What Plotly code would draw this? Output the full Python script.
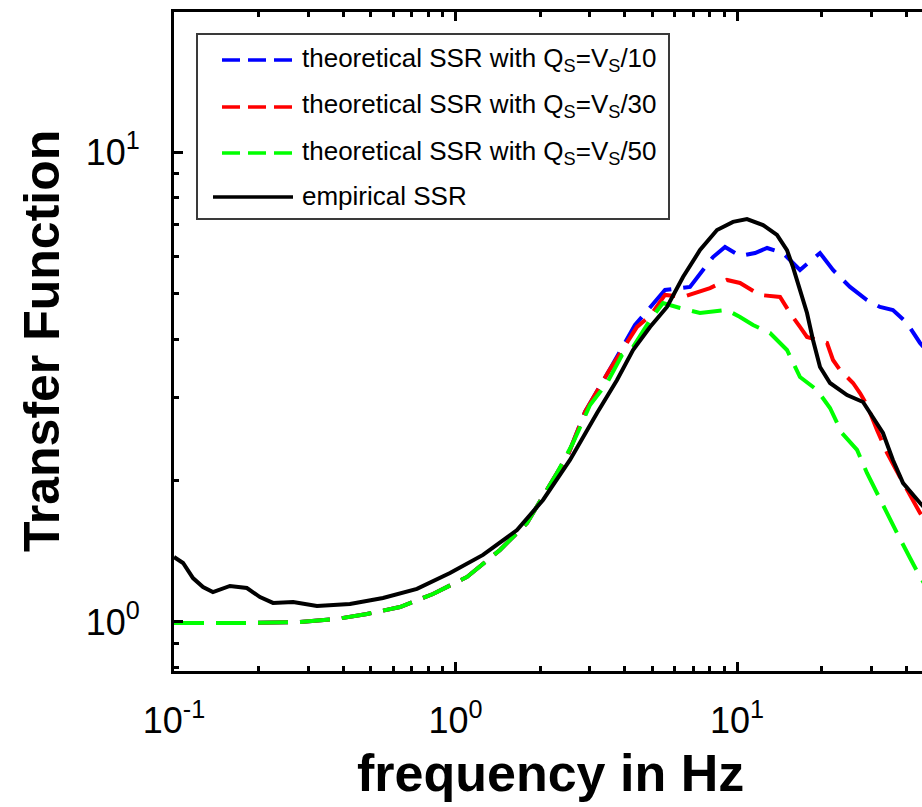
import plotly.graph_objects as go

# ---------------- data ----------------
# empirical SSR (black)
emp_f = [0.100, 0.1077, 0.1168, 0.1268, 0.1375, 0.158, 0.1815, 0.202, 0.2248, 0.265,
         0.322, 0.4217, 0.5526, 0.7295, 0.956, 1.252, 1.654, 2.046, 2.551, 2.838,
         3.183, 3.748, 4.272, 4.909, 5.640, 6.43, 7.39, 8.49, 9.68, 10.85,
         12.37, 13.87, 15.05, 15.81, 16.74, 17.73, 18.62, 19.72, 21.4, 24.6,
         28.03, 30.4, 33.0, 35.8, 38.9, 44.7, 50.5]
emp_y = [1.375, 1.335, 1.240, 1.187, 1.158, 1.193, 1.181, 1.130, 1.098, 1.103,
         1.081, 1.092, 1.125, 1.176, 1.271, 1.389, 1.569, 1.818, 2.212, 2.475,
         2.785, 3.272, 3.791, 4.244, 4.680, 5.42, 6.186, 6.823, 7.10, 7.20,
         6.99, 6.66, 6.186, 5.69, 5.09, 4.544, 3.981, 3.488, 3.225, 3.04,
         2.938, 2.731, 2.524, 2.212, 1.975, 1.791, 1.66]

# theoretical SSR, Qs = Vs/50 (green)
q50_f = [0.100, 0.1237, 0.1862, 0.2804, 0.3793, 0.4849, 0.6351, 0.8318, 1.099, 1.439,
         1.795, 2.294, 2.615, 3.005, 3.453, 3.904, 4.272, 4.909, 5.460, 6.275,
         7.390, 9.21, 10.25, 11.40, 13.10, 15.05, 16.74, 19.24, 21.40, 23.60,
         26.70, 28.95, 31.43, 34.12, 37.02, 41.18, 44.68, 50.5]
q50_y = [0.995, 0.995, 0.995, 1.0, 1.015, 1.040, 1.076, 1.147, 1.247, 1.423,
         1.624, 2.075, 2.404, 2.895, 3.225, 3.700, 3.847, 4.390, 4.771, 4.656,
         4.544, 4.611, 4.457, 4.284, 4.120, 3.791, 3.321, 3.116, 2.853, 2.524,
         2.323, 2.075, 1.882, 1.690, 1.547, 1.368, 1.247, 1.114]

# theoretical SSR, Qs = Vs/30 (red)
q30_f = [0.100, 0.1237, 0.1862, 0.2804, 0.3793, 0.4849, 0.6351, 0.8318, 1.099, 1.439,
         1.795, 2.294, 2.509, 2.884, 3.262, 3.523, 4.414, 4.909, 5.55, 6.43,
         8.02, 9.21, 10.25, 12.07, 14.22, 15.43, 16.74, 17.73, 20.88, 21.93,
         23.22, 25.83, 27.35, 28.95, 31.43, 34.12, 37.93, 40.18, 44.68, 50.5]
q30_y = [0.995, 0.995, 0.995, 1.0, 1.015, 1.040, 1.076, 1.147, 1.247, 1.423,
         1.624, 2.075, 2.266, 2.798, 3.193, 3.438, 4.244, 4.478, 4.964, 4.915,
         5.135, 5.343, 5.265, 4.964, 4.915, 4.544, 4.244, 4.041, 3.924, 3.610,
         3.438, 3.225, 3.070, 2.895, 2.562, 2.289, 2.035, 1.909, 1.706, 1.531]

# theoretical SSR, Qs = Vs/10 (blue)
q10_f = [0.100, 0.1237, 0.1862, 0.2804, 0.3793, 0.4849, 0.6351, 0.8318, 1.099, 1.439,
         1.795, 2.294, 2.509, 2.884, 3.262, 3.523, 4.342, 4.989, 5.55, 6.808,
         7.572, 8.218, 9.066, 10.25, 11.59, 12.79, 14.57, 16.07, 16.74, 19.72,
         21.93, 25.2, 28.95, 32.21, 35.8, 40.18, 44.68, 50.5]
q10_y = [0.995, 0.995, 0.995, 1.0, 1.015, 1.040, 1.076, 1.147, 1.247, 1.423,
         1.624, 2.075, 2.266, 2.798, 3.193, 3.438, 4.284, 4.727, 5.086, 5.163,
         5.610, 5.977, 6.280, 6.007, 6.096, 6.249, 6.096, 5.748, 5.610, 6.096,
         5.610, 5.163, 4.842, 4.680, 4.611, 4.326, 3.924, 3.610]

legend_labels = [
    "theoretical SSR with Q<sub>S</sub>=V<sub>S</sub>/10",
    "theoretical SSR with Q<sub>S</sub>=V<sub>S</sub>/30",
    "theoretical SSR with Q<sub>S</sub>=V<sub>S</sub>/50",
    "empirical SSR",
]
colors = ["#0000FF", "#FF0000", "#00FF00", "#000000"]

x_tickvals = [0.1, 1, 10]
x_ticktext = ["10<sup>-1</sup>", "10<sup>0</sup>", "10<sup>1</sup>"]
y_tickvals = [1, 10]
y_ticktext = ["10<sup>0</sup>", "10<sup>1</sup>"]

x_minor = [0.2, 0.3, 0.4, 0.5, 0.6, 0.7, 0.8, 0.9, 2, 3, 4, 5, 6, 7, 8, 9, 20, 30, 40]
y_minor = [0.8, 0.9, 2, 3, 4, 5, 6, 7, 8, 9, 20]

# ---------------- figure ----------------
W, H = 922, 807
L, T, B = 174, 12, 136
PW, PH = W - L, H - T - B

def px(xp):
    return (xp - L) / PW

def py(yp):
    return (H - B - yp) / PH

FONT = "Liberation Sans, Arial, Helvetica, sans-serif"
DASH = "30px,12px"

fig = go.Figure()
series = [(q10_f, q10_y), (q30_f, q30_y), (q50_f, q50_y)]
for (fx, fy), c in zip(series, colors[:3]):
    fig.add_trace(go.Scatter(x=fx, y=fy, mode="lines",
                             line=dict(color=c, width=4, dash=DASH),
                             showlegend=False, hoverinfo="skip"))
fig.add_trace(go.Scatter(x=emp_f, y=emp_y, mode="lines",
                         line=dict(color="black", width=4),
                         showlegend=False, hoverinfo="skip"))

# manual legend (box, samples, texts)
shapes = [dict(type="rect", xref="paper", yref="paper",
               x0=px(197), x1=px(669), y0=py(219), y1=py(34),
               line=dict(color="#3a3a3a", width=2), fillcolor="white", layer="above")]
rows = [60, 107, 153, 197]
annotations = []
for i, (lab, c) in enumerate(zip(legend_labels, colors)):
    r = rows[i]
    if i < 3:
        shapes.append(dict(type="line", xref="paper", yref="paper",
                           x0=px(222), x1=px(296), y0=py(r), y1=py(r),
                           line=dict(color=c, width=3.5, dash="18px,8px"), layer="above"))
    else:
        shapes.append(dict(type="line", xref="paper", yref="paper",
                           x0=px(213), x1=px(293), y0=py(r), y1=py(r),
                           line=dict(color=c, width=3.5), layer="above"))
    annotations.append(dict(xref="paper", yref="paper", x=px(300), y=py(r - 1),
                            xanchor="left", yanchor="middle", text=lab, showarrow=False,
                            font=dict(family=FONT, size=26, color="black")))

annotations.append(dict(xref="paper", yref="paper", x=px(550), y=py(773),
                        xanchor="center", yanchor="middle", text="<b>frequency in Hz</b>",
                        showarrow=False, font=dict(family=FONT, size=52, color="black")))
annotations.append(dict(xref="paper", yref="paper", x=px(42), y=py(341),
                        xanchor="center", yanchor="middle", text="<b>Transfer Function</b>",
                        textangle=-90, showarrow=False,
                        font=dict(family=FONT, size=50, color="black")))

fig.update_layout(
    width=W, height=H,
    margin=dict(l=L, r=0, t=T, b=B),
    paper_bgcolor="white", plot_bgcolor="white",
    shapes=shapes, annotations=annotations,
    showlegend=False,
)
fig.update_xaxes(type="log", range=[-1, -1 + PW / 281.5],
                 showgrid=False, zeroline=False,
                 showline=True, linecolor="black", linewidth=3, mirror="ticks",
                 ticks="inside", ticklen=9, tickwidth=2.5, tickcolor="black",
                 tickvals=x_tickvals, ticktext=x_ticktext,
                 tickfont=dict(family=FONT, size=36, color="black"),
                 ticklabelstandoff=16,
                 minor=dict(tickvals=x_minor, ticks="inside", ticklen=5,
                            tickwidth=2.5, tickcolor="black", showgrid=False))
fig.update_yaxes(type="log", range=[-0.1043, 1.2979],
                 showgrid=False, zeroline=False,
                 showline=True, linecolor="black", linewidth=3, mirror=False,
                 ticks="inside", ticklen=9, tickwidth=2.5, tickcolor="black",
                 tickvals=y_tickvals, ticktext=y_ticktext,
                 tickfont=dict(family=FONT, size=36, color="black"),
                 ticklabelstandoff=24,
                 minor=dict(tickvals=y_minor, ticks="inside", ticklen=5,
                            tickwidth=2.5, tickcolor="black", showgrid=False))

fig.write_html("out.html")
